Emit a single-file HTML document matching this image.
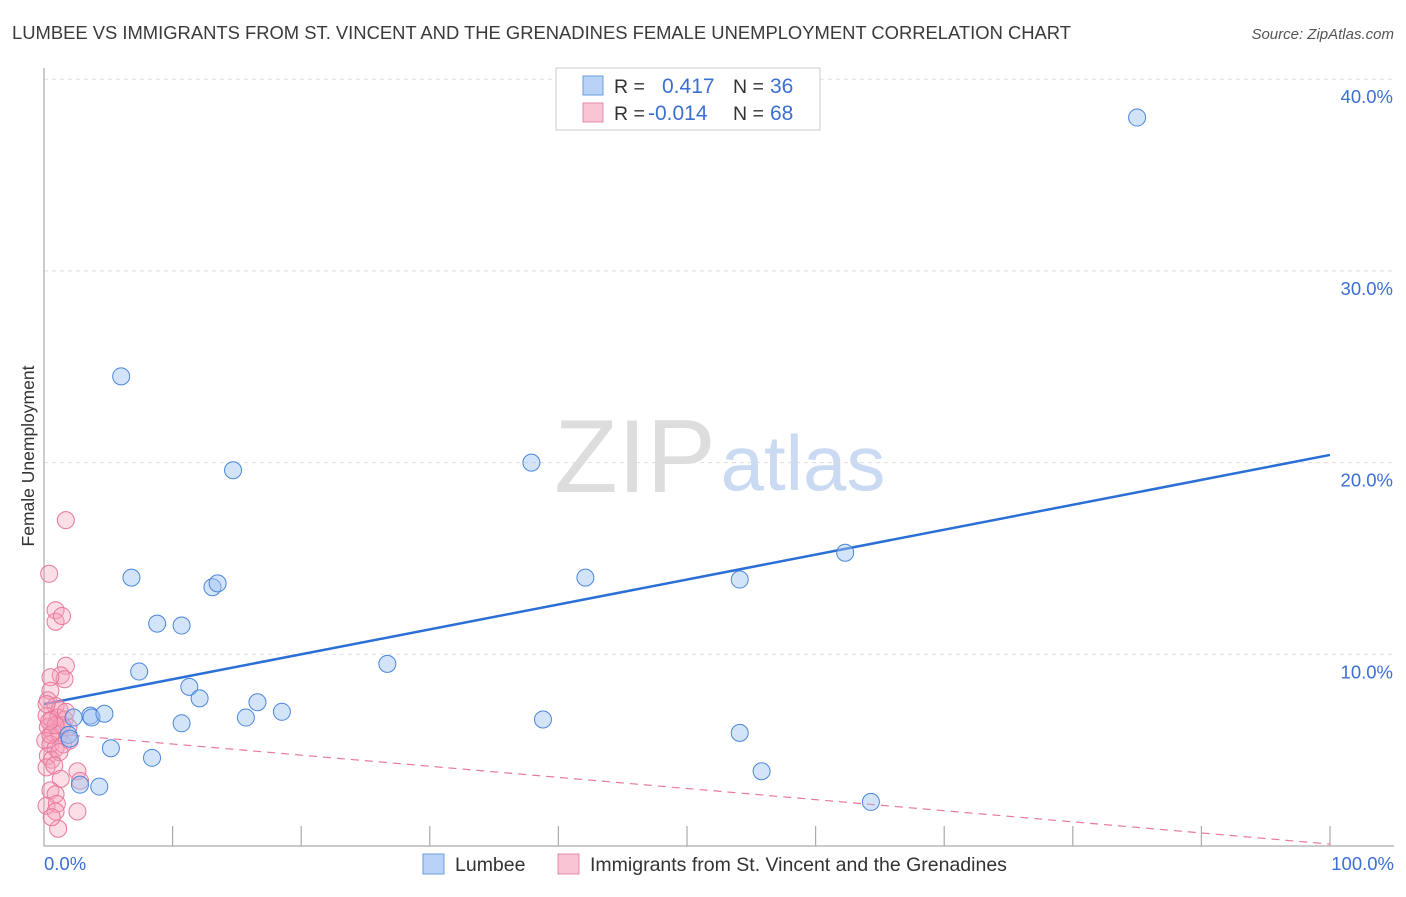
<!DOCTYPE html>
<html><head><meta charset="utf-8"><style>
body{margin:0;background:#fff;font-family:"Liberation Sans",sans-serif}
svg text{font-family:"Liberation Sans",sans-serif}
</style></head><body>
<svg id="chart" width="1406" height="892" viewBox="0 0 1406 892">
<text x="12" y="39" font-size="18.4" fill="#3a3a3a">LUMBEE VS IMMIGRANTS FROM ST. VINCENT AND THE GRENADINES FEMALE UNEMPLOYMENT CORRELATION CHART</text>
<text x="1394" y="39" font-size="15" fill="#555" font-style="italic" text-anchor="end">Source: ZipAtlas.com</text>
<text transform="translate(34,456) rotate(-90)" font-size="17.5" fill="#333" text-anchor="middle">Female Unemployment</text>
<g><text x="635" y="492" font-size="104" fill="#ddd" font-family="Liberation Serif" text-anchor="middle">ZIP</text><text x="803" y="490" font-size="78" fill="#c9daf2" text-anchor="middle">atlas</text></g>
<g id="grid"></g><g id="axes"></g><g id="lines"></g><g id="pts"></g>
<g>
<rect x="556" y="68" width="264" height="62" fill="#fff" stroke="#ccc"/>
<rect x="583" y="76" width="20" height="19" fill="#b8d3f5" stroke="#6a9de0"/>
<text x="614" y="93" font-size="19.5" fill="#333">R =</text><text x="662" y="93" font-size="21" fill="#3b6fd4">0.417</text>
<text x="733" y="93" font-size="19.5" fill="#333">N =</text><text x="770" y="93" font-size="21" fill="#3b6fd4">36</text>
<rect x="583" y="103" width="20" height="19" fill="#f8c3d3" stroke="#e88aa8"/>
<text x="614" y="120" font-size="19.5" fill="#333">R =</text><text x="648" y="120" font-size="21" fill="#3b6fd4">-0.014</text>
<text x="733" y="120" font-size="19.5" fill="#333">N =</text><text x="770" y="120" font-size="21" fill="#3b6fd4">68</text>
</g>
<g>
<rect x="423" y="854" width="21" height="20" fill="#b8d3f5" stroke="#6a9de0"/>
<text x="455" y="871" font-size="19.5" fill="#333">Lumbee</text>
<rect x="558" y="854" width="21" height="20" fill="#f8c3d3" stroke="#e88aa8"/>
<text x="590" y="871" font-size="19.5" fill="#333">Immigrants from St. Vincent and the Grenadines</text>
</g>
<text x="44" y="870" font-size="18.5" fill="#3b6fd4">0.0%</text>
<text x="1394" y="870" font-size="18.5" fill="#3b6fd4" text-anchor="end">100.0%</text>
</svg>
<script>
const yTicks=[10,20,30,40];
const yTickLabels=["10.0%","20.0%","30.0%","40.0%"];
const xTicks=[10,20,30,40,50,60,70,80,90,100];
const blueX=[6.0,14.7,37.9,85.0,6.8,13.1,13.5,42.1,54.1,62.3,8.8,10.7,7.4,26.7,11.3,12.1,16.6,15.7,18.5,10.7,38.8,3.6,3.7,4.7,2.3,1.9,5.2,8.4,54.1,55.8,64.3,2.8,4.3,2.0];
const blueY=[24.5,19.6,20.0,38.0,14.0,13.5,13.7,14.0,13.9,15.3,11.6,11.5,9.1,9.5,8.3,7.7,7.5,6.7,7.0,6.4,6.6,6.8,6.7,6.9,6.7,5.8,5.1,4.6,5.9,3.9,2.3,3.2,3.1,5.6];
const pinkX=[1.7,0.4,0.9,0.9,1.4,1.7,1.3,1.6,0.5,0.5,0.3,0.9,1.2,0.2,0.6,1.1,1.6,0.3,0.7,1.2,0.1,0.5,0.9,1.5,0.3,0.6,1.2,0.2,0.8,2.6,1.3,2.8,0.5,0.9,0.2,1.0,0.9,2.6,1.1,0.6,2.0,1.9,0.2,0.5,1.4,1.7,0.9,0.4];
const pinkY=[17.0,14.2,12.3,11.7,12.0,9.4,8.9,8.7,8.8,8.1,7.6,7.3,7.1,6.8,6.6,6.7,6.6,6.2,5.9,5.8,5.5,5.3,5.1,5.3,4.7,4.5,4.9,4.1,4.2,3.9,3.5,3.4,2.9,2.7,2.1,2.2,1.8,1.8,0.9,1.5,5.5,6.2,7.4,5.8,6.3,7.0,6.3,6.5];
const blueTrend=[7.4,20.4];
const pinkTrend=[5.9,0.1];
const NS='http://www.w3.org/2000/svg';
const X=v=>44+v*12.86, Y=v=>846-v*19.17;
function mk(p,t,a){const e=document.createElementNS(NS,t);for(const k in a)e.setAttribute(k,a[k]);document.getElementById(p).appendChild(e);return e;}
yTicks.forEach((t,i)=>{
 const g=mk('grid','line',{x1:44,x2:1394,y1:Y(t),y2:Y(t),stroke:'#ddd','stroke-dasharray':'4,4'});
 
 
 const l=mk('grid','text',{x:1393,y:Y(t)+24,'font-size':18.5,fill:'#3b6fd4','text-anchor':'end'});l.textContent=yTickLabels[i];
 
 
});
const ax=mk('axes','path',{d:`M44 68V846H1394`,fill:'none',stroke:'#aaa','stroke-width':1.2});


xTicks.forEach(t=>{const k=mk('axes','line',{x1:X(t),x2:X(t),y1:826,y2:846,stroke:'#aaa','stroke-width':1.2});
 
 });
const bl=mk('lines','line',{x1:X(0),y1:Y(blueTrend[0]),x2:X(100),y2:Y(blueTrend[1]),stroke:'#2a6fd6','stroke-width':2.5});


const pl=mk('lines','line',{x1:X(0),y1:Y(pinkTrend[0]),x2:X(100),y2:Y(pinkTrend[1]),stroke:'#e8799c','stroke-width':1.2,'stroke-dasharray':'8,6'});


pinkX.forEach((x,i)=>{const c=mk('pts','circle',{cx:X(x),cy:Y(pinkY[i]),r:8.5,fill:'rgba(245,160,185,0.35)',stroke:'#e8799c','stroke-width':1});
 
 });
blueX.forEach((x,i)=>{const c=mk('pts','circle',{cx:X(x),cy:Y(blueY[i]),r:8.5,fill:'rgba(160,195,240,0.45)',stroke:'#4a86dc','stroke-width':1});
 
 });
</script>
</body></html>
